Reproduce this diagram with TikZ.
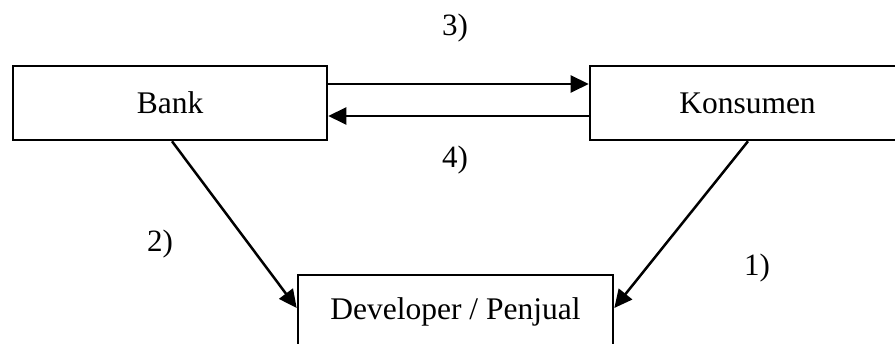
\documentclass[tikz,border=0pt]{standalone}
\usepackage{fontspec}
\setmainfont{Liberation Serif}
\usetikzlibrary{arrows.meta}
\begin{document}
\begin{tikzpicture}[x=1pt,y=-1pt,
  boxnode/.style={draw,line width=2.6pt,inner sep=0pt,font=\fontsize{31.5}{37}\selectfont},
  lbl/.style={font=\fontsize{31}{37}\selectfont,inner sep=0pt},
  arr/.style={line width=2.5pt,-{Triangle[length=18pt,width=17pt]}}]
\useasboundingbox (0,0) rectangle (895,344);
\node[boxnode,minimum width=314pt,minimum height=74pt] (bank) at (170,103) {Bank};
\node[boxnode,minimum width=315pt,minimum height=74pt] (kons) at (747.5,103) {Konsumen};
\node[boxnode,minimum width=315pt,minimum height=74pt] (dev) at (455.5,312) {Developer / Penjual};
\draw[arr] ([yshift=19pt]bank.east) -- ([yshift=19pt]kons.west);
\draw[arr] ([yshift=-13pt]kons.west) -- ([yshift=-13pt]bank.east);
\draw[arr] ([xshift=2pt]bank.south) -- ([yshift=4pt]dev.west);
\draw[arr] ([xshift=0.5pt]kons.south) -- ([yshift=4pt]dev.east);
\node[lbl] (l3) at (455,28) {3)};
\node[lbl] (l4) at (455,160) {4)};
\node[lbl] (l2) at (160,244) {2)};
\node[lbl] (l1) at (757,268) {1)};
\end{tikzpicture}
\end{document}
